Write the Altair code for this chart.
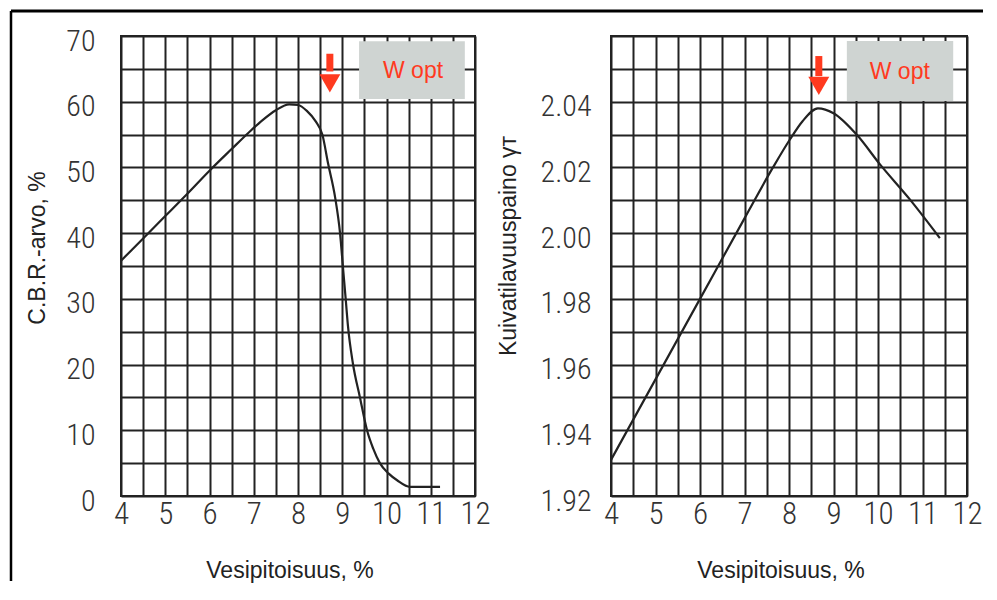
import altair as alt
import pandas as pd

# ---- data ----
cbr_moisture = [4.0, 4.5, 5.0, 5.5, 6.0, 6.5, 6.9, 7.2, 7.5, 7.8, 8.0, 8.2, 8.4, 8.55,
                8.68, 8.84, 8.95, 9.02, 9.08, 9.13, 9.24, 9.40, 9.56, 9.70, 9.85, 10.05,
                10.24, 10.53, 11.21]
cbr_values = [35.8, 39.2, 42.6, 46.0, 49.5, 52.8, 55.4, 57.2, 58.7, 59.6, 59.5, 58.6, 57.0, 55.0,
              50.6, 45.4, 40.0, 34.5, 29.8, 25.8, 20.2, 15.0, 10.0, 7.2, 5.0, 3.4,
              2.4, 1.4, 1.4]

dens_moisture = [4.0, 5.0, 6.0, 7.0, 7.64, 8.02, 8.30, 8.65, 9.00, 9.52,
                 10.04, 10.72, 11.39]
dens_values = [1.931, 1.9555, 1.980, 2.0045, 2.020, 2.0285, 2.0340, 2.038, 2.0365,
               2.030, 2.021, 2.0102, 1.9985]

x_grid = [4, 4.5, 5, 5.5, 6, 6.5, 7, 7.5, 8, 8.5, 9, 9.5, 10, 10.5, 11, 11.5, 12]
cbr_grid = [0, 5, 10, 15, 20, 25, 30, 35, 40, 45, 50, 55, 60, 65, 70]
dens_grid = [1.92, 1.93, 1.94, 1.95, 1.96, 1.97, 1.98, 1.99, 2.00, 2.01, 2.02, 2.03,
             2.04, 2.05, 2.06]

# annotation ("W opt" box + arrow) positions in data units
cbr_box = [9.38, 11.77, 60.4, 69.2]
cbr_arrow = [8.72, 67.3, 64.6, 62.8]      # x, shaft top, shaft bottom, head centre
dens_box = [9.30, 11.69, 2.0402, 2.0585]
dens_arrow = [8.67, 2.0539, 2.0478, 2.0448]
cbr_label = [10.60, 64.6]
dens_label = [10.49, 2.0490]

x_title = "Vesipitoisuus, %"
cbr_title = "C.B.R.-arvo, %"
dens_title = "Kuivatilavuuspaino γᴛ"
opt_text = "W opt"

RED = "#ff3a1f"
BOX = "#cfd4d2"
INK = "#222222"
LABEL_FONT = "Roboto Condensed, Liberation Sans Narrow, DejaVu Sans Condensed, sans-serif"
TITLE_FONT = "Liberation Sans, Arial, sans-serif"

W_L, W_R, H = 354, 356, 460

xscale = alt.Scale(domain=[4, 12], nice=False, zero=False)
x_axis = alt.Axis(values=x_grid, title=None,
                  labelExpr="datum.value % 1 == 0 ? format(datum.value, 'd') : ''",
                  labelOverlap=False, labelFlush=False,
                  labelPadding=3, labelFontSize=31)


def panel(xs, ys, ydom, ygrid, ylabexpr, box, arrow, lab, ytitle, ytitle_pos,
          ypad, width, borders):
    yscale = alt.Scale(domain=ydom, nice=False, zero=False)
    y_axis = alt.Axis(values=ygrid, title=None, labelExpr=ylabexpr,
                      labelOverlap=False, labelFlush=False,
                      labelPadding=ypad, labelOffset=5, labelFontSize=30)

    def X(f):
        return alt.X(f, scale=xscale, axis=x_axis)

    def Y(f):
        return alt.Y(f, scale=yscale, axis=y_axis)

    curve = alt.Chart(pd.DataFrame({"x": xs, "y": ys})).mark_line(
        color=INK, strokeWidth=2.2, interpolate="monotone"
    ).encode(x=X("x:Q"), y=Y("y:Q"))

    box_df = pd.DataFrame({"x": [box[0]], "x2": [box[1]], "y": [box[2]], "y2": [box[3]]})
    boxm = alt.Chart(box_df).mark_rect(color=BOX).encode(
        x=X("x:Q"), x2="x2:Q", y=Y("y:Q"), y2="y2:Q")

    lab_df = pd.DataFrame({"x": [lab[0]], "y": [lab[1]], "t": [opt_text]})
    labm = alt.Chart(lab_df).mark_text(
        color=RED, font=TITLE_FONT, fontSize=23, baseline="middle", align="center"
    ).encode(x=X("x:Q"), y=Y("y:Q"), text="t:N")

    arr_df = pd.DataFrame({"x": [arrow[0]], "y": [arrow[1]], "y2": [arrow[2]], "yh": [arrow[3]]})
    shaft = alt.Chart(arr_df).mark_rule(color=RED, strokeWidth=7).encode(
        x=X("x:Q"), y=Y("y:Q"), y2="y2:Q")
    head = alt.Chart(arr_df).mark_point(
        shape="triangle-down", filled=True, color=RED, opacity=1, size=440, strokeWidth=0
    ).encode(x=X("x:Q"), y=Y("yh:Q"))

    one = pd.DataFrame({"k": [0]})
    ytit = alt.Chart(one).mark_text(
        text=ytitle, angle=270, font=TITLE_FONT, fontSize=23, color=INK,
        align="center", baseline="middle"
    ).encode(x=alt.value(ytitle_pos[0]), y=alt.value(ytitle_pos[1]))
    xtit = alt.Chart(one).mark_text(
        text=x_title, font=TITLE_FONT, fontSize=23, color=INK,
        align="center", baseline="middle"
    ).encode(x=alt.value(width / 2 - 8), y=alt.value(535))

    layers = [boxm, curve, shaft, head, labm, ytit, xtit]
    if borders:
        top = alt.Chart(one).mark_rule(color="#000000", strokeWidth=3).encode(
            x=alt.value(-110), x2=alt.value(862), y=alt.value(-25))
        left = alt.Chart(one).mark_rule(color="#000000", strokeWidth=2.5).encode(
            x=alt.value(-110), y=alt.value(-25), y2=alt.value(545))
        layers += [top, left]
    return alt.layer(*layers).properties(width=width, height=H)


left = panel(cbr_moisture, cbr_values, [0, 70], cbr_grid,
             "datum.value % 10 == 0 ? format(datum.value, 'd') : ''",
             cbr_box, cbr_arrow, cbr_label, cbr_title, (-83, 212), 26, W_L, True)
right = panel(dens_moisture, dens_values, [1.92, 2.06], dens_grid,
              "(round(datum.value * 100) % 2 == 0 && datum.value < 2.05) ? format(datum.value, '.2f') : ''",
              dens_box, dens_arrow, dens_label, dens_title, (-102, 210), 20, W_R, False)

chart = alt.hconcat(left, right, spacing=136, bounds="flush").properties(
    padding=0, background="#ffffff"
).configure_view(
    stroke=INK, strokeWidth=2
).configure_axis(
    grid=True, gridColor=INK, gridWidth=2, gridOpacity=1,
    domain=False, ticks=False,
    labelFont=LABEL_FONT, labelColor="#333333", labelFontWeight=300
)

chart.save("out.html", embed_options={"renderer": "svg", "actions": False})
